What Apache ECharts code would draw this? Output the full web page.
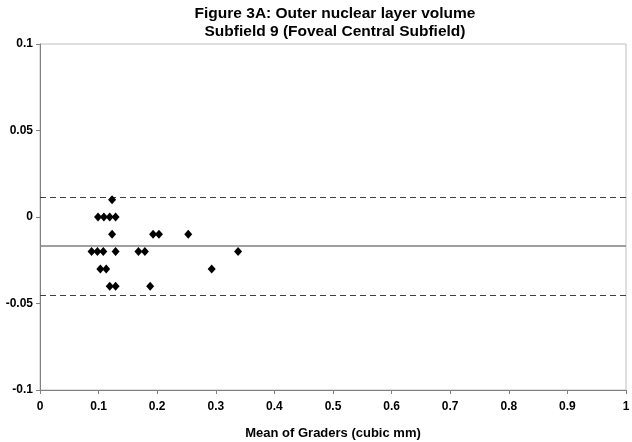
<!DOCTYPE html>
<html><head><meta charset="utf-8">
<script src="https://cdn.jsdelivr.net/npm/echarts@6/dist/echarts.min.js"></script>
<style>html,body{margin:0;padding:0;background:#fff}#c{width:632px;height:442px}</style>
</head><body><div id="c"></div>
<script>
const titleLines = ["Figure 3A: Outer nuclear layer volume", "Subfield 9 (Foveal Central Subfield)"];
const xAxisName = "Mean of Graders (cubic mm)";
const meanX = [0.123, 0.099, 0.109, 0.119, 0.129, 0.123, 0.193, 0.203, 0.253, 0.088, 0.098, 0.108, 0.129, 0.168, 0.179, 0.338, 0.103, 0.113, 0.293, 0.119, 0.129, 0.188];
const diffY = [0.01, 0, 0, 0, 0, -0.01, -0.01, -0.01, -0.01, -0.02, -0.02, -0.02, -0.02, -0.02, -0.02, -0.02, -0.03, -0.03, -0.03, -0.04, -0.04, -0.04];
const meanDiff = -0.0168;
const upperLimit = 0.0116;
const lowerLimit = -0.045;

const chart = echarts.init(document.getElementById('c'));
const font = 'Liberation Sans, Arial, sans-serif';
chart.setOption({
  animation: false,
  title: {
    text: titleLines.join('\n'),
    left: 330, top: 0, textAlign: 'center',
    textStyle: {fontFamily: font, fontWeight: 'bold', fontSize: 15.5, color: '#000', lineHeight: 18}
  },
  grid: {left: 40, right: 6, top: 44, bottom: 52, show: true, borderColor: '#c0c0c0', borderWidth: 1,
    outerBoundsMode: 'none', containLabel: false},
  xAxis: {
    type: 'value', min: 0, max: 1, interval: 0.1,
    name: xAxisName, nameLocation: 'middle', nameGap: 37,
    nameTextStyle: {fontFamily: font, fontWeight: 'bold', fontSize: 13, color: '#000'},
    axisLine: {onZero: false, lineStyle: {color: '#808080', width: 1}},
    axisTick: {show: true, length: 4, lineStyle: {color: '#808080'}},
    axisLabel: {fontFamily: font, fontWeight: 'bold', fontSize: 12, color: '#000', margin: 11,
      formatter: v => String(Math.round(v * 10) / 10)},
    splitLine: {show: false}
  },
  yAxis: {
    type: 'value', min: -0.1, max: 0.1, interval: 0.05,
    axisLine: {show: true, onZero: false, lineStyle: {color: '#808080', width: 1}},
    axisTick: {show: true, length: 4, lineStyle: {color: '#808080'}},
    axisLabel: {fontFamily: font, fontWeight: 'bold', fontSize: 12, color: '#000', margin: 7,
      formatter: v => String(Math.round(v * 100) / 100)},
    splitLine: {show: false}
  },
  series: [{
    type: 'scatter',
    data: meanX.map((x, i) => [x, diffY[i]]),
    symbol: 'diamond', symbolSize: [8, 9],
    itemStyle: {color: '#000', opacity: 1},
    z: 5,
    markLine: {
      silent: true, symbol: 'none', label: {show: false}, precision: 5,
      data: [
        {yAxis: upperLimit, lineStyle: {type: [6, 4], color: '#404040', width: 1}},
        {yAxis: meanDiff, lineStyle: {type: 'solid', color: '#808080', width: 1.5}},
        {yAxis: lowerLimit, lineStyle: {type: [6, 4], color: '#404040', width: 1}}
      ]
    }
  }]
});
</script></body></html>
